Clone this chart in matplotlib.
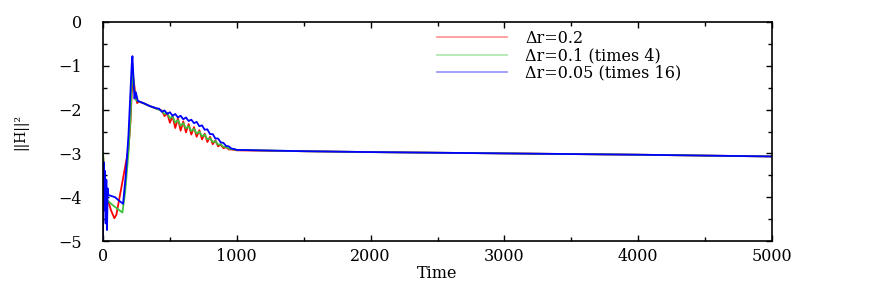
import matplotlib
matplotlib.use("Agg")
import matplotlib.pyplot as plt
from matplotlib.ticker import MultipleLocator
from matplotlib.lines import Line2D

plt.rcParams['font.family'] = ['DejaVu Serif', 'Liberation Serif']

t_red = [0, 10, 20, 40, 60, 85, 100, 130, 160, 190, 205, 215, 228, 240, 255, 270, 300, 350, 400,
         440, 460, 480, 500, 520, 540, 560, 580, 600, 620, 640, 660, 680, 700, 720, 740, 760, 780,
         800, 820, 840, 860, 880, 900, 920, 940, 960, 1000, 1500, 2000, 3000, 4000, 5000]
v_red = [-3.0, -3.6, -4.1, -4.1, -4.3, -4.48, -4.4, -3.9, -3.4, -2.9, -2.3, -1.6, -1.3, -1.6, -1.85,
         -1.82, -1.85, -1.92, -1.98,
         -2.02, -2.15, -2.08, -2.3, -2.15, -2.42, -2.2, -2.48, -2.27, -2.52, -2.33, -2.57, -2.4, -2.62,
         -2.47, -2.68, -2.55, -2.74, -2.62, -2.79, -2.7, -2.84, -2.8, -2.88, -2.86, -2.91, -2.91,
         -2.93, -2.95, -2.97, -3.0, -3.03, -3.07]

t_green = [0, 10, 25, 50, 80, 110, 145, 165, 190, 205, 215, 222, 232, 245, 270, 300, 350, 400,
           440, 460, 480, 500, 520, 540, 560, 580, 600, 620, 640, 660, 680, 700, 720, 740, 760, 780,
           800, 820, 840, 860, 880, 900, 920, 940, 960, 1000, 1500, 2000, 3000, 4000, 5000]
v_green = [-3.0, -3.5, -4.05, -4.12, -4.2, -4.27, -4.35, -3.9, -3.0, -2.2, -1.4, -1.05, -1.5, -1.78,
           -1.82, -1.85, -1.92, -1.98,
           -2.03, -2.1, -2.08, -2.2, -2.15, -2.3, -2.24, -2.37, -2.31, -2.43, -2.38, -2.49, -2.44,
           -2.55, -2.5, -2.61, -2.57, -2.68, -2.65, -2.74, -2.72, -2.8, -2.79, -2.85, -2.85, -2.89,
           -2.9, -2.92, -2.95, -2.97, -3.0, -3.03, -3.07]

t_blue = [0, 5, 10, 15, 20, 25, 30, 35, 40, 60, 90, 120, 150, 170, 190, 205, 215, 220, 228, 235,
          245, 260, 300, 350, 400,
          420, 440, 460, 480, 500, 520, 540, 560, 580, 600, 620, 640, 660, 680, 700, 720, 740, 760,
          780, 800, 820, 840, 860, 880, 900, 920, 940, 960, 980, 1000, 1500, 2000, 3000, 4000, 5000]
v_blue = [-5.0, -3.2, -4.3, -3.4, -4.6, -3.6, -4.75, -3.8, -3.95, -3.97, -4.0, -4.08, -4.15, -3.5,
          -2.6, -1.6, -0.95, -0.78, -1.3, -1.75, -1.6, -1.8, -1.85, -1.92, -1.97,
          -1.98, -2.05, -2.02, -2.1, -2.06, -2.14, -2.1, -2.18, -2.14, -2.22, -2.18, -2.26, -2.23,
          -2.31, -2.28, -2.38, -2.36, -2.46, -2.45, -2.56, -2.56, -2.66, -2.66, -2.75, -2.76, -2.83,
          -2.84, -2.89, -2.9, -2.92, -2.95, -2.97, -3.0, -3.03, -3.07]

labels = ["\u0394r=0.2", "\u0394r=0.1 (times 4)", "\u0394r=0.05 (times 16)"]
colors = ["#ff0000", "#3cc23c", "#0000ff"]

fig = plt.figure(figsize=(8.76, 2.91), dpi=100)
ax = fig.add_axes([103/876, 50/291, 669/876, 219/291])

ax.plot(t_red, v_red, color=colors[0], lw=1.3)
ax.plot(t_green, v_green, color=colors[1], lw=1.3)
ax.plot(t_blue, v_blue, color=colors[2], lw=1.3)

ax.set_xlim(0, 5000)
ax.set_ylim(-5, 0)
ax.xaxis.set_major_locator(MultipleLocator(1000))
ax.xaxis.set_minor_locator(MultipleLocator(500))
ax.yaxis.set_major_locator(MultipleLocator(1))
ax.yaxis.set_minor_locator(MultipleLocator(0.5))
ax.tick_params(which='both', direction='in', top=True, right=True, width=1)
ax.tick_params(which='major', length=4)
ax.tick_params(which='minor', length=3)
ax.tick_params(axis='y', pad=15, labelsize=11.5)
ax.tick_params(axis='x', pad=5, labelsize=11.5)
for s in ax.spines.values():
    s.set_linewidth(1.2)

ax.set_xlabel("Time", fontsize=11.5, labelpad=0)
ax.set_ylabel("||H||\u00b2", fontsize=10, labelpad=22)

handles = [Line2D([], [], color=c, lw=1.3, alpha=0.4) for c in colors]
ax.legend(handles, labels, loc='upper left', bbox_to_anchor=(0.478, 1.03), frameon=False,
          fontsize=11.5, handlelength=4.4, handletextpad=1.1, labelspacing=0.02)

fig.savefig("out.png", dpi=100)
